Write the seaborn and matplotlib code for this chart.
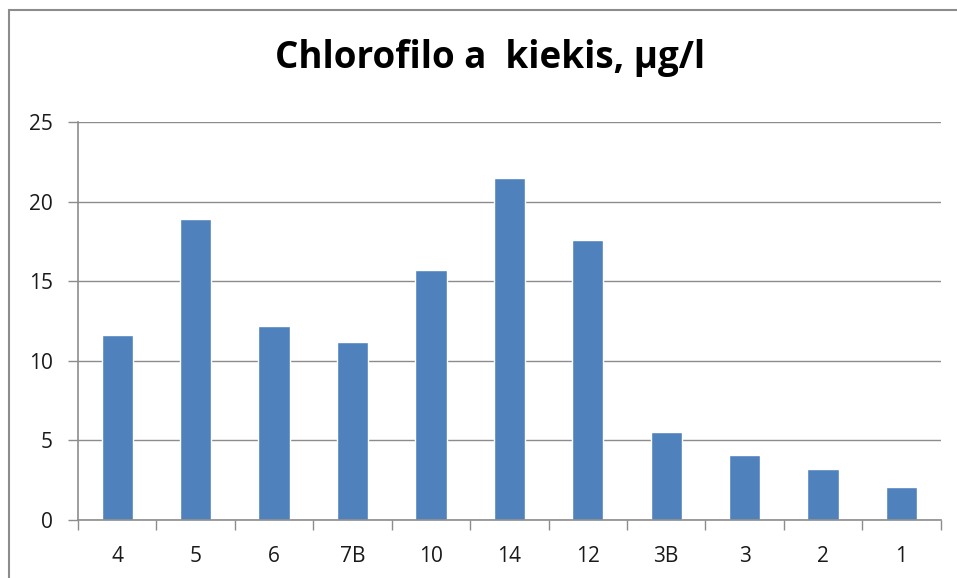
import numpy as np
import pandas as pd
import seaborn as sns
import matplotlib.pyplot as plt
from matplotlib.patches import Rectangle

stations = ['4', '5', '6', '7B', '10', '14', '12', '3B', '3', '2', '1']
chl_a = [11.6, 18.9, 12.2, 11.2, 15.7, 21.5, 17.6, 5.5, 4.1, 3.2, 2.1]

df = pd.DataFrame({'stotis': stations, 'chl': chl_a})

sns.set_style('white')
plt.rcParams['font.family'] = ['Open Sans', 'DejaVu Sans']

fig = plt.figure(figsize=(9.57, 5.78), dpi=100)
ax = fig.add_axes([0.0815, 0.1003, 0.9015, 0.6887])

sns.barplot(data=df, x='stotis', y='chl', color='#4F81BD', saturation=1,
            width=0.4, ax=ax)

ax.set_xlim(-0.5, len(stations) - 0.5)
ax.set_ylim(0, 25)
ax.set_yticks(range(0, 26, 5))
ax.set_xlabel('')
ax.set_ylabel('')

# grid + axes in excel grey
ax.yaxis.grid(True, color='#8c8c8c', linewidth=1)
ax.set_axisbelow(True)
for s in ['top', 'right']:
    ax.spines[s].set_visible(False)
for s in ['left', 'bottom']:
    ax.spines[s].set_color('#8c8c8c')
    ax.spines[s].set_linewidth(1.2)

ax.tick_params(axis='y', length=7, width=1, color='#8c8c8c', direction='out',
               labelsize=15, pad=11, left=True)
ax.tick_params(axis='x', which='major', length=0, labelsize=15, pad=19)
ax.set_xticks(np.arange(-0.5, len(stations)), minor=True)
ax.tick_params(axis='x', which='minor', length=7, width=1, color='#8c8c8c',
               direction='out', bottom=True)
for lbl in ax.get_xticklabels() + ax.get_yticklabels():
    lbl.set_color('#1a1a1a')

fig.text(0.512, 0.9, 'Chlorofilo a  kiekis, µg/l', ha='center', va='center',
         fontsize=26.5, fontweight='bold', color='black')

# outer chart frame (only top/left visible in the crop)
fig.patches.append(Rectangle((0.009, -0.1), 1.2, 1.083, transform=fig.transFigure,
                             fill=False, edgecolor='#8c8c8c', linewidth=1.5))

fig.savefig('out.png', dpi=100)
